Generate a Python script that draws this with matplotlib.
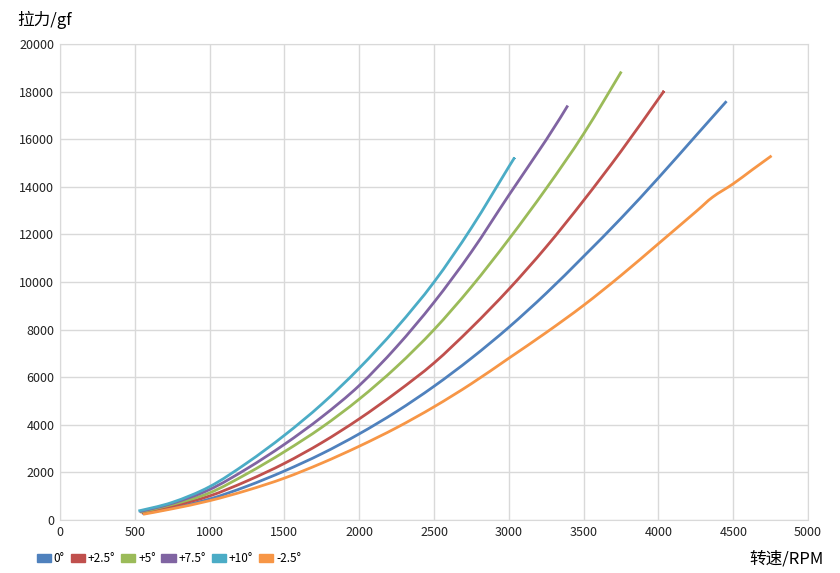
import matplotlib
matplotlib.use("Agg")
import matplotlib.pyplot as plt
from matplotlib.patches import Patch, PathPatch
from matplotlib.path import Path

plt.rcParams['font.family'] = ['Noto Sans CJK SC', 'DejaVu Sans']

# Data (RPM, gf)
rpm_0 = [550, 750, 1000, 1250, 1500, 1750, 2000, 2250, 2500, 2750, 3000, 3250, 3500, 3750, 4000, 4250, 4455]
gf_0 = [270, 500, 880, 1420, 2060, 2785, 3620, 4560, 5620, 6800, 8100, 9530, 11080, 12680, 14380, 16150, 17600]

rpm_p25 = [545, 750, 1000, 1250, 1500, 1750, 2000, 2250, 2500, 2750, 3000, 3250, 3500, 3750, 4000, 4033]
gf_p25 = [300, 580, 1010, 1640, 2380, 3250, 4250, 5370, 6600, 8080, 9700, 11480, 13431, 15500, 17700, 17993]

rpm_p5 = [535, 750, 1000, 1250, 1500, 1750, 2000, 2250, 2500, 2750, 3000, 3250, 3500, 3752]
gf_p5 = [330, 650, 1140, 1945, 2870, 3895, 5080, 6440, 8000, 9800, 11800, 13935, 16230, 18846]

rpm_p75 = [530, 750, 1000, 1250, 1500, 1750, 2000, 2250, 2500, 2750, 3000, 3250, 3394]
gf_p75 = [350, 700, 1280, 2160, 3180, 4330, 5650, 7280, 9150, 11270, 13650, 15980, 17419]

rpm_p10 = [524, 750, 1000, 1250, 1500, 1750, 2000, 2250, 2500, 2750, 3000, 3035]
gf_p10 = [378, 740, 1400, 2400, 3560, 4870, 6380, 8080, 10000, 12280, 14845, 15194]

rpm_m25 = [555, 750, 1000, 1250, 1500, 1750, 2000, 2250, 2500, 2750, 3000, 3250, 3500, 3750, 4000, 4250, 4362, 4500, 4627, 4756]
gf_m25 = [240, 470, 811, 1245, 1760, 2390, 3100, 3880, 4757, 5730, 6800, 7880, 9024, 10280, 11614, 12957, 13570, 14132, 14720, 15307]

labels = ["0°", "+2.5°", "+5°", "+7.5°", "+10°", "-2.5°"]
colors = ["#4F81BD", "#C0504D", "#9BBB59", "#8064A2", "#4BACC6", "#F79646"]
series = [(rpm_0, gf_0), (rpm_p25, gf_p25), (rpm_p5, gf_p5),
          (rpm_p75, gf_p75), (rpm_p10, gf_p10), (rpm_m25, gf_m25)]


def smooth_path(x, y):
    # Excel-like smoothed line: cubic Bezier segments through the data points
    verts = [(x[0], y[0])]
    codes = [Path.MOVETO]
    n = len(x)
    for i in range(n - 1):
        x0, y0 = (x[i - 1], y[i - 1]) if i > 0 else (x[i], y[i])
        x3, y3 = (x[i + 2], y[i + 2]) if i + 2 < n else (x[i + 1], y[i + 1])
        c1 = (x[i] + (x[i + 1] - x0) / 6, y[i] + (y[i + 1] - y0) / 6)
        c2 = (x[i + 1] - (x3 - x[i]) / 6, y[i + 1] - (y3 - y[i]) / 6)
        verts += [c1, c2, (x[i + 1], y[i + 1])]
        codes += [Path.CURVE4] * 3
    return Path(verts, codes)


fig = plt.figure(figsize=(8.4, 5.73), dpi=100)
ax = fig.add_axes([0.0714, 0.0925, 0.8906, 0.8305])

for (x, y), c in zip(series, colors):
    ax.add_patch(PathPatch(smooth_path(x, y), facecolor="none", edgecolor=c,
                           linewidth=2, capstyle="butt"))

ax.set_xlim(0, 5000)
ax.set_ylim(0, 20000)
ax.set_xticks(range(0, 5001, 500))
ax.set_yticks(range(0, 20001, 2000))
ax.grid(True, color="#d9d9d9", linewidth=1)
ax.set_axisbelow(True)
for s in ax.spines.values():
    s.set_color("#d9d9d9")
ax.tick_params(length=0, labelsize=9, colors="#222222", pad=4)

fig.text(0.021, 0.965, "拉力/gf", fontsize=12, ha="left", va="center")
fig.text(0.980, 0.025, "转速/RPM", fontsize=12, ha="right", va="center")

handles = [Patch(facecolor=c, edgecolor=c) for c in colors]
fig.legend(handles, labels, loc="center left", bbox_to_anchor=(0.038, 0.025),
           ncol=6, frameon=False, fontsize=8.5, handlelength=1.2, handleheight=0.6,
           handletextpad=0.25, columnspacing=0.5, borderaxespad=0)

plt.savefig("out.png", dpi=100)
